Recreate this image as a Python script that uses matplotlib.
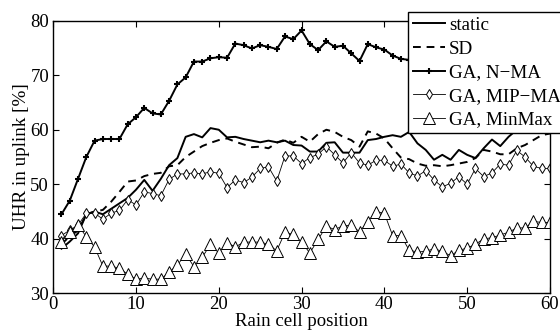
import numpy as np
import matplotlib.pyplot as plt

plt.rcParams['font.family'] = ['Liberation Serif', 'DejaVu Serif']

# rain cell positions
pos = np.arange(1, 61)

static = [38.2, 39.5, 41.0, 44.5, 45.0, 44.5, 45.5, 46.5, 47.5, 49.0,
          50.8, 48.8, 51.0, 53.5, 54.8, 58.7, 59.2, 58.6, 60.3, 60.0,
          58.6, 58.7, 58.3, 58.0, 57.7, 58.0, 57.7, 58.0, 57.2, 57.1,
          56.0, 56.0, 57.6, 57.7, 55.8, 55.8, 55.8, 58.1, 58.3, 58.7,
          59.0, 58.7, 59.6, 57.5, 56.3, 54.5, 55.4, 54.5, 56.3, 55.4,
          54.8, 56.6, 58.2, 57.0, 58.7, 60.0, 61.0, 62.0, 62.0, 63.0]

sd = [39.0, 40.5, 41.5, 44.5, 45.0, 45.3, 46.8, 48.6, 50.5, 50.7,
      51.5, 51.9, 52.1, 53.3, 53.5, 55.0, 56.0, 57.0, 57.6, 58.1,
      58.4, 57.8, 57.3, 56.8, 56.9, 56.6, 57.6, 58.2, 57.6, 58.7,
      57.8, 59.2, 60.0, 59.6, 58.7, 58.1, 56.9, 59.7, 59.3, 58.4,
      56.6, 54.9, 54.6, 53.8, 53.4, 53.5, 53.3, 53.5, 53.8, 54.1,
      54.8, 56.3, 56.0, 55.5, 55.5, 56.6, 57.2, 58.1, 59.0, 59.3]

ga_nma = [44.5, 47.0, 51.0, 55.0, 58.0, 58.3, 58.3, 58.3, 61.0, 62.3,
          64.0, 63.0, 62.8, 65.3, 68.3, 69.6, 72.5, 72.5, 73.1, 73.3,
          73.2, 75.8, 75.5, 74.9, 75.5, 75.2, 74.8, 77.1, 76.6, 78.2,
          75.7, 74.6, 76.2, 75.2, 75.4, 74.0, 72.6, 75.7, 75.1, 74.7,
          73.6, 73.0, 72.8, 72.5, 72.6, 72.3, 72.0, 72.4, 72.8, 72.5,
          73.0, 72.7, 73.2, 73.5, 73.0, 73.4, 73.8, 73.5, 74.0, 74.2]

ga_mip = [40.6, 41.6, 42.5, 44.7, 44.7, 43.6, 44.7, 45.2, 47.2, 46.2,
          48.6, 48.3, 47.9, 50.9, 51.9, 51.9, 52.1, 51.9, 52.3, 52.0,
          49.4, 50.8, 50.3, 51.3, 52.9, 53.2, 50.6, 55.2, 55.2, 53.8,
          54.9, 55.5, 56.9, 55.4, 53.9, 55.8, 53.9, 53.5, 54.4, 54.4,
          53.3, 53.7, 52.1, 51.5, 52.5, 50.8, 49.5, 50.2, 51.4, 50.0,
          52.9, 51.4, 52.1, 53.7, 53.5, 56.2, 55.0, 53.3, 52.9, 52.9]

ga_minmax = [39.5, 41.3, 42.5, 40.4, 38.5, 35.0, 35.0, 34.6, 33.5, 32.6,
             32.8, 32.6, 32.6, 33.9, 35.2, 37.2, 34.9, 36.6, 39.0, 37.4,
             39.3, 38.5, 39.4, 39.4, 39.4, 39.0, 37.8, 41.2, 40.8, 39.4,
             37.4, 39.9, 42.3, 41.7, 42.4, 42.5, 41.3, 43.1, 45.0, 44.7,
             40.6, 40.6, 37.9, 37.6, 37.7, 38.2, 37.7, 36.9, 37.9, 38.3,
             39.0, 40.0, 40.2, 40.7, 41.2, 42.0, 42.0, 43.2, 43.0, 43.0]

fig = plt.figure(figsize=(5.6, 3.33), dpi=100)
ax = fig.add_axes([0.095, 0.119, 0.887, 0.819])

ax.plot(pos, static, 'k-', lw=1.4, label='static')
ax.plot(pos, sd, 'k--', lw=1.4, dashes=(4, 3), label='SD')
ax.plot(pos, ga_nma, 'k-', lw=1.4, marker='+', ms=5, mew=1.5, label='GA, N\u2212MA')
ax.plot(pos, ga_mip, 'k-', lw=0.6, marker='d', ms=5.5, mfc='white', mew=0.7,
        label='GA, MIP\u2212MA')
ax.plot(pos, ga_minmax, 'k-', lw=0.6, marker='^', ms=8, mfc='white', mew=0.7,
        label='GA, MinMax')

ax.set_xlim(0, 60)
ax.set_ylim(30, 80)
ax.set_xticks(range(0, 61, 10))
ax.set_yticks(range(30, 81, 10))
ax.tick_params(direction='in', top=True, right=True, length=4, labelsize=13.5)
ax.tick_params(axis='x', pad=2)
ax.tick_params(axis='y', pad=3)
for s in ax.spines.values():
    s.set_linewidth(1.0)
ax.set_xlabel('Rain cell position', fontsize=13.5, labelpad=0)
ax.set_ylabel('UHR in uplink [%]', fontsize=13.8, labelpad=0)

leg = ax.legend(loc='upper left', bbox_to_anchor=(0.714, 1.032), fontsize=13.7,
                frameon=True, fancybox=False, edgecolor='black', framealpha=1,
                handlelength=1.7, handletextpad=0.2, labelspacing=0.33,
                borderpad=0.25, borderaxespad=0)
leg.get_frame().set_linewidth(1.0)

fig.savefig('out.png', dpi=100)
